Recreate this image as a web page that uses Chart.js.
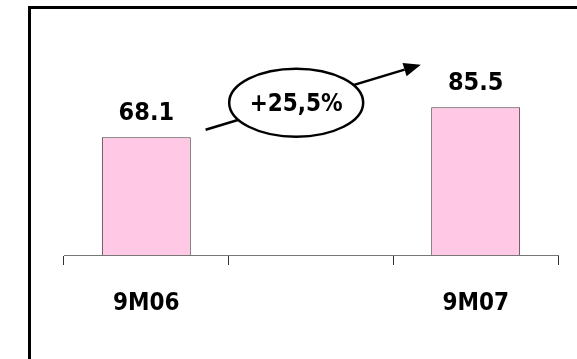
<!DOCTYPE html>
<html>
<head>
    <meta charset="utf-8" />
    <title>9M06 vs 9M07</title>
    <script src="https://cdn.jsdelivr.net/npm/chart.js/dist/chart.umd.js"></script>
    <style>
        body { margin: 0; background: #fff; }
        #wrap { position: relative; width: 577px; height: 359px; overflow: hidden; }
        #frame {
            position: absolute; left: 28px; top: 6px; width: 600px; height: 400px;
            border-left: 3px solid #000; border-top: 3px solid #000;
        }
        #chart { position: absolute; left: 0; top: 0; }
    </style>
</head>
<body>
    <div id="wrap">
        <div id="frame"></div>
        <canvas id="chart" width="577" height="359"></canvas>
    </div>
    <script>
        // data
        var periods = ['9M06', '', '9M07'];
        var revenue = [68.1, null, 85.5];
        var growthLabel = '+25,5%';

        var FONT = "'DejaVu Sans Condensed', 'DejaVu Sans', sans-serif";

        // ellipse + arrow, placed in data units
        var arrowFrom = { x: 0.36, y: 72.5 };
        var arrowTo = { x: 1.667, y: 110.1 };
        var bubbleAt = { x: 0.91, y: 88.1 };

        var overlay = {
            id: 'overlay',
            afterDatasetsDraw: function (chart) {
                var ctx = chart.ctx;
                var xs = chart.scales.x, ys = chart.scales.y;
                var meta = chart.getDatasetMeta(0);

                ctx.save();
                ctx.fillStyle = '#000';
                ctx.textAlign = 'center';
                ctx.textBaseline = 'alphabetic';
                ctx.font = 'bold 25px ' + FONT;
                meta.data.forEach(function (bar, i) {
                    if (revenue[i] == null) return;
                    ctx.fillText(revenue[i].toFixed(1), bar.x, bar.y - 17);
                });

                // arrow
                var x1 = xs.getPixelForValue(arrowFrom.x), y1 = ys.getPixelForValue(arrowFrom.y);
                var x2 = xs.getPixelForValue(arrowTo.x), y2 = ys.getPixelForValue(arrowTo.y);
                var ang = Math.atan2(y2 - y1, x2 - x1);
                var head = 17, half = 7;
                ctx.strokeStyle = '#000';
                ctx.lineWidth = 2.5;
                ctx.beginPath();
                ctx.moveTo(x1, y1);
                ctx.lineTo(x2 - head * Math.cos(ang), y2 - head * Math.sin(ang));
                ctx.stroke();
                ctx.beginPath();
                ctx.moveTo(x2, y2);
                ctx.lineTo(x2 - head * Math.cos(ang) + half * Math.sin(ang), y2 - head * Math.sin(ang) - half * Math.cos(ang));
                ctx.lineTo(x2 - head * Math.cos(ang) - half * Math.sin(ang), y2 - head * Math.sin(ang) + half * Math.cos(ang));
                ctx.closePath();
                ctx.fill();

                // bubble
                var cx = xs.getPixelForValue(bubbleAt.x), cy = ys.getPixelForValue(bubbleAt.y);
                ctx.beginPath();
                ctx.ellipse(cx, cy, 67, 34, 0, 0, Math.PI * 2);
                ctx.fillStyle = '#fff';
                ctx.fill();
                ctx.lineWidth = 2.5;
                ctx.stroke();
                ctx.fillStyle = '#000';
                ctx.font = 'bold 24px ' + FONT;
                ctx.textBaseline = 'middle';
                ctx.fillText(growthLabel, cx, cy + 2);
                ctx.restore();
            }
        };

        new Chart(document.getElementById('chart'), {
            type: 'bar',
            data: {
                labels: periods,
                datasets: [{
                    data: revenue,
                    backgroundColor: '#ffc9e5',
                    borderColor: '#4d3a44',
                    borderWidth: 1,
                    barPercentage: 0.54,
                    categoryPercentage: 1
                }]
            },
            options: {
                responsive: false,
                animation: false,
                layout: { padding: { left: 64, right: 19, top: 13, bottom: 0 } },
                plugins: { legend: { display: false }, tooltip: { enabled: false } },
                scales: {
                    x: {
                        offset: true,
                        grid: { display: true, drawOnChartArea: false, drawTicks: true, tickLength: 10, color: '#333', offset: true },
                        border: { display: true, color: '#777', width: 1 },
                        ticks: { color: '#000', padding: 24, font: { family: FONT, size: 24, weight: 'bold' } },
                        afterFit: function (s) { s.height = 104; }
                    },
                    y: { display: false, min: 0, max: 140 }
                }
            },
            plugins: [overlay]
        });
    </script>
</body>
</html>
